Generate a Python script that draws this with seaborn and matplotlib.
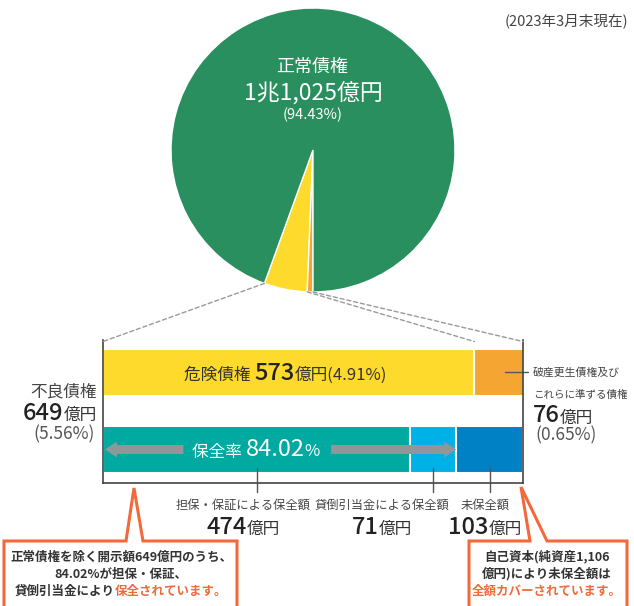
import numpy as np
import seaborn as sns
import matplotlib.pyplot as plt
from matplotlib.patches import ConnectionPatch
from matplotlib.offsetbox import TextArea, HPacker, AnnotationBbox

# 金額 (億円)
pie_labels = ["危険債権", "破産更生債権及びこれらに準ずる債権", "正常債権"]
pie_values = [573, 76, 11025]
pie_colors = ["#fdda2c", "#f5a532", "#2a8f5e"]

rows = ["危険債権", "保全内訳"]
upper_labels = ["危険債権", "破産更生債権及びこれらに準ずる債権"]
upper_values = [573, 76]
upper_colors = ["#fdda2c", "#f5a532"]
lower_labels = ["担保・保証による保全額", "貸倒引当金による保全額", "未保全額"]
lower_values = [474, 71, 103]
lower_colors = ["#00aaa0", "#00b1e6", "#0080c5"]

sns.set_style("white")
plt.rcParams["font.family"] = ["Noto Sans CJK JP", "DejaVu Sans"]

W, H = 634, 606
fig = plt.figure(figsize=(W / 100, H / 100), dpi=100)

DARK = "#333333"
GRAY = "#555555"
ORANGE = "#f26a3b"
NUM = "medium"

# ---- pie ----
pax = fig.add_axes([171 / W, 1 - 292 / H, 284 / W, 284 / H])
bad = sum(pie_values[:2])
start = 270 - 360 * bad / sum(pie_values)
wedges, _ = pax.pie(pie_values, colors=pie_colors, startangle=start,
                    counterclock=True, radius=1,
                    wedgeprops=dict(edgecolor="white", linewidth=1))
for w in wedges:
    w.set_clip_on(False)
pax.set_xlim(-1, 1)
pax.set_ylim(-1, 1)
pax.axis("off")

# ---- stacked bars ----
ax = fig.add_axes([103 / W, 1 - 483 / H, 420 / W, 143 / H])
segs = {rows[0]: (upper_values, upper_colors), rows[1]: (lower_values, lower_colors)}
nlayers = max(len(v) for v, _ in segs.values())
for k in range(nlayers - 1, -1, -1):
    xs, ys, pal = [], [], {}
    for r, (vals, cols) in segs.items():
        if k < len(vals):
            xs.append(np.cumsum(vals)[k])
            ys.append(r)
            pal[r] = cols[k]
    sns.barplot(x=xs, y=ys, hue=ys, palette=pal, order=rows, orient="h",
                width=0.61, saturation=1, edgecolor="white", linewidth=1.5,
                legend=False, ax=ax)

total = sum(lower_values)
ax.set_xlim(0, total)
ax.set_ylim(1.435, -0.42)
ax.set_xticks([])
ax.set_yticks([])
ax.set_xlabel("")
ax.set_ylabel("")
ax.spines["top"].set_visible(False)
for s in ["left", "bottom", "right"]:
    ax.spines[s].set_color("#444444")
    ax.spines[s].set_linewidth(1.2)

# ticks under the lower segments
lower_cum = np.cumsum(lower_values)
for c, v in zip(lower_cum, lower_values):
    ax.plot([c - v / 2, c - v / 2], [1.24, 1.55], color="#555555", lw=1, clip_on=False)
ax.plot([np.cumsum(upper_values)[0] + upper_values[1] * 0.62, total + 8], [0, 0],
        color="#555555", lw=1, clip_on=False)

# arrows for 保全率
arrow = dict(arrowstyle="simple,head_length=0.86,head_width=1.15,tail_width=0.65",
             mutation_scale=10, color="#939598", shrinkA=0, shrinkB=0, lw=0)
ax.annotate("", xy=(3, 1), xytext=(124, 1), arrowprops=arrow)
ax.annotate("", xy=(lower_cum[1], 1), xytext=(352, 1), arrowprops=arrow)

# dashed connectors from the pie slice to the bars
angles = np.deg2rad([start, start + 360 * upper_values[0] / sum(pie_values), 270])
targets = [0, upper_values[0], total]
for a, tx in zip(angles, targets):
    cp = ConnectionPatch(xyA=(np.cos(a), np.sin(a)), coordsA=pax.transData,
                         xyB=(tx, -0.4), coordsB=ax.transData,
                         color="#9a9a9a", lw=1, linestyle=(0, (3, 2)))
    fig.add_artist(cp)

# ---- overlay in pixel coordinates for labels and callouts ----
ov = fig.add_axes([0, 0, 1, 1])
ov.set_xlim(0, W)
ov.set_ylim(H, 0)
ov.axis("off")
ov.patch.set_visible(False)


def run(parts, x, y, ha=0.5):
    boxes = [TextArea(t, textprops=dict(fontsize=s, color=c, fontweight=w))
             for t, s, c, w in parts]
    pack = HPacker(children=boxes, align="baseline", pad=0, sep=0)
    ov.add_artist(AnnotationBbox(pack, (x, y), xycoords="data", box_alignment=(ha, 0.5),
                                 frameon=False, pad=0))


ov.text(628, 22, "(2023年3月末現在)", ha="right", va="center", fontsize=10.5, color="#444444")

ov.text(312, 67, "正常債権", ha="center", va="center", fontsize=13, color="white")
ov.text(313, 93, "1兆1,025億円", ha="center", va="center", fontsize=16.5, color="white")
ov.text(313, 115, "(94.43%)", ha="center", va="center", fontsize=10.5, color="white")

run([("危険債権 ", 12, DARK, "normal"), ("573", 17, "#222222", NUM),
     ("億円(4.91%)", 12, DARK, "normal")], 286, 373)
run([("保全率 ", 12, "white", "normal"), ("84.02", 17, "white", "normal"),
     ("%", 12, "white", "normal")], 256, 450)

ov.text(97, 392, "不良債権", ha="right", va="center", fontsize=12, color="#444444")
run([("649", 17, "#222222", NUM), ("億円", 12, DARK, "normal")], 97, 413, ha=1)
ov.text(95, 434, "(5.56%)", ha="right", va="center", fontsize=12.5, color=GRAY)

ov.text(533, 373, "破産更生債権及び", ha="left", va="center", fontsize=7.8, color="#444444")
ov.text(533, 395, "これらに準ずる債権", ha="left", va="center", fontsize=7.6, color="#444444")
run([("76", 17, "#222222", NUM), ("億円", 12, DARK, "normal")], 533, 416, ha=0)
ov.text(535, 435, "(0.65%)", ha="left", va="center", fontsize=12.5, color=GRAY)

label_x = [243, 382, 485]
for lab, v, x in zip(lower_labels, lower_values, label_x):
    ov.text(x, 505, lab, ha="center", va="center", fontsize=8.8, color="#444444")
    run([(str(v), 17, "#222222", NUM), ("億円", 12, DARK, "normal")], x, 527)

# callout boxes
ov.plot([4, 4, 126, 134, 143, 237, 237], [612, 541, 541, 488, 541, 541, 612],
        color=ORANGE, lw=2.2, clip_on=False, solid_joinstyle="miter")
ov.plot([469, 469, 530, 521, 547, 627, 627], [612, 541, 541, 487, 541, 541, 612],
        color=ORANGE, lw=2.2, clip_on=False, solid_joinstyle="miter")

ov.text(121, 557, "正常債権を除く開示額649億円のうち、", ha="center", va="center",
        fontsize=9, color=DARK, fontweight="bold")
ov.text(121, 574, "84.02%が担保・保証、", ha="center", va="center",
        fontsize=9, color=DARK, fontweight="bold")
run([("貸倒引当金により", 9, DARK, "bold"), ("保全されています。", 9, ORANGE, "bold")], 121, 591)

ov.text(547, 557, "自己資本(純資産1,106", ha="center", va="center",
        fontsize=9, color=DARK, fontweight="bold")
ov.text(547, 574, "億円)により未保全額は", ha="center", va="center",
        fontsize=9, color=DARK, fontweight="bold")
ov.text(547, 591, "全額カバーされています。", ha="center", va="center",
        fontsize=9, color=ORANGE, fontweight="bold")

fig.savefig("out.png", dpi=100)
